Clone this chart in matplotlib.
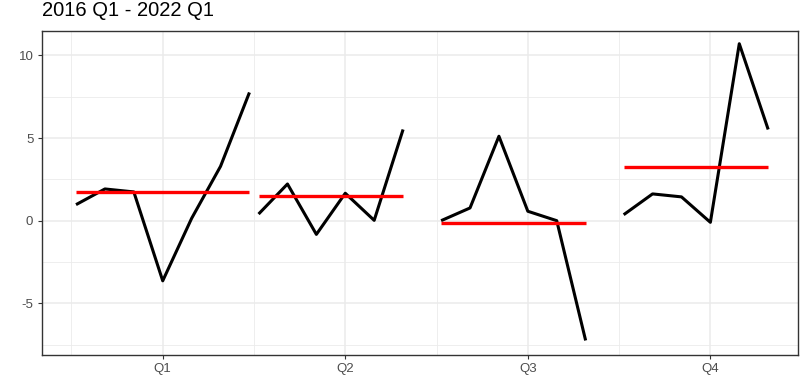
import numpy as np
import matplotlib.pyplot as plt

# Datos (subseries por trimestre)
quarters = ['Q1', 'Q2', 'Q3', 'Q4']
q1 = [0.97, 1.92, 1.74, -3.64, 0.14, 3.29, 7.76]
q2 = [0.40, 2.22, -0.83, 1.66, 0.02, 5.52]
q3 = [0.00, 0.77, 5.11, 0.57, 0.00, -7.25]
q4 = [0.36, 1.62, 1.44, -0.10, 10.71, 5.52]
y_ticks = [-5, 0, 5, 10]

series = [q1, q2, q3, q4]

plt.rcParams['font.family'] = ['Liberation Sans', 'DejaVu Sans']
plt.rcParams['axes.unicode_minus'] = False

fig = plt.figure(figsize=(8.07, 3.84), dpi=100)
ax = fig.add_axes([41.7 / 807, 1 - 355 / 384, (798 - 41.7) / 807, (355 - 31) / 384])

step = 0.95 / 6
for i, vals in enumerate(series):
    q = i + 1
    x = q - 0.475 + step * np.arange(len(vals))
    ax.plot(x, vals, color='black', lw=2.2, solid_capstyle='butt', zorder=3)
    ax.hlines(np.mean(vals), x[0], x[-1], color='red', lw=2.4, zorder=4)

ax.set_xlim(0.337, 4.48)
ax.set_ylim(-8.13, 11.48)

ax.set_xticks([1, 2, 3, 4])
ax.set_xticklabels(quarters)
ax.set_xticks([0.5, 1.5, 2.5, 3.5], minor=True)
ax.set_yticks(y_ticks)
ax.set_yticks([-7.5, -2.5, 2.5, 7.5], minor=True)

ax.grid(which='major', color='#EBEBEB', lw=1.1, zorder=0)
ax.grid(which='minor', color='#EBEBEB', lw=0.6, zorder=0)
ax.set_axisbelow(True)

for s in ax.spines.values():
    s.set_color('#333333')
    s.set_linewidth(1.0)

ax.tick_params(which='major', length=3, width=0.8, color='#333333',
               labelcolor='#4D4D4D', labelsize=9.5, pad=3)
ax.tick_params(which='minor', length=0)

fig.text(41.7 / 807, 1 - 11 / 384, '2016 Q1 - 2022 Q1', fontsize=14.5,
         ha='left', va='center', color='black')

fig.savefig('out.png', dpi=100)
